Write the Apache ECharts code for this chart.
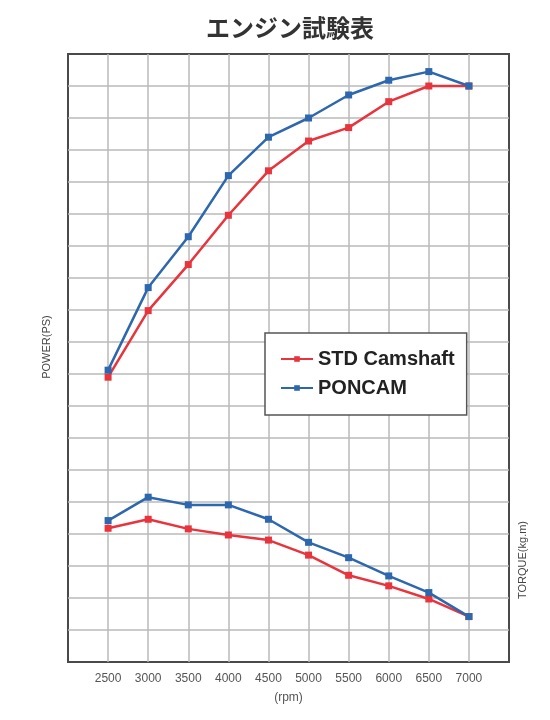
<!DOCTYPE html>
<html>
<head>
<meta charset="utf-8">
<script src="https://cdn.jsdelivr.net/npm/echarts@6/dist/echarts.min.js"></script>
<style>html,body{margin:0;padding:0;background:#fff;}#c{width:550px;height:720px;}</style>
</head>
<body>
<div id="c"></div>
<script>
var rpm = [2500, 3000, 3500, 4000, 4500, 5000, 5500, 6000, 6500, 7000];
var stdPower = [8.9, 10.98, 12.42, 13.96, 15.35, 16.28, 16.7, 17.51, 18.0, 18.0];
var poncamPower = [9.12, 11.7, 13.29, 15.2, 16.4, 17.0, 17.72, 18.18, 18.45, 18.0];
var stdTorque = [4.18, 4.46, 4.16, 3.97, 3.81, 3.34, 2.71, 2.38, 1.97, 1.42];
var poncamTorque = [4.42, 5.15, 4.91, 4.91, 4.46, 3.74, 3.26, 2.69, 2.17, 1.42];
var seriesNames = ['STD Camshaft', 'PONCAM'];
var colors = ['#e8343c', '#2d67ad'];

function pairs(ys) { return rpm.map(function (x, i) { return [x, ys[i]]; }); }
function mk(name, ys, color) {
  return {
    name: name, type: 'line', data: pairs(ys),
    symbol: 'rect', symbolSize: 7,
    lineStyle: { color: color, width: 2.5 },
    itemStyle: { color: color },
    animation: false
  };
}

var chart = echarts.init(document.getElementById('c'));
chart.setOption({
  animation: false,
  title: {
    text: 'エンジン試験表', left: 201, top: 11,
    textStyle: { fontFamily: 'Noto Sans CJK JP', fontWeight: 'bold', fontSize: 24, color: '#333' }
  },
  grid: { left: 68, right: 41, top: 54, bottom: 58, show: true, borderColor: '#4a4a4a', borderWidth: 2 },
  xAxis: {
    type: 'value', min: 2000, max: 7500, interval: 500,
    axisLine: { show: false }, axisTick: { show: false },
    axisLabel: {
      margin: 11, color: '#555', fontSize: 12, fontFamily: 'Liberation Sans',
      formatter: function (v) { return (v === 2000 || v === 7500) ? '' : String(v); }
    },
    splitLine: { show: true, showMinLine: false, showMaxLine: false, lineStyle: { color: '#bababa', width: 1.5 } },
    name: '(rpm)', nameLocation: 'middle', nameGap: 30,
    nameTextStyle: { color: '#555', fontSize: 12, fontFamily: 'Liberation Sans' }
  },
  yAxis: {
    type: 'value', min: 0, max: 19, interval: 1,
    axisLine: { show: false }, axisTick: { show: false }, axisLabel: { show: false },
    splitLine: { show: true, showMinLine: false, showMaxLine: false, lineStyle: { color: '#bababa', width: 1.5 } }
  },
  legend: {
    data: seriesNames, orient: 'vertical', left: 265, top: 333,
    backgroundColor: '#fff', borderColor: '#555', borderWidth: 1.5,
    padding: [16, 12, 17, 15], itemGap: 9, itemWidth: 32, itemHeight: 7,
    textStyle: { fontFamily: 'Liberation Sans', fontWeight: 'bold', fontSize: 20, color: '#222' }
  },
  graphic: [
    { type: 'text', x: 47, y: 347, rotation: Math.PI / 2,
      style: { text: 'POWER(PS)', fill: '#444', font: '11px "Liberation Sans"', textAlign: 'center', textVerticalAlign: 'middle' } },
    { type: 'text', x: 523, y: 560, rotation: Math.PI / 2,
      style: { text: 'TORQUE(kg.m)', fill: '#444', font: '11px "Liberation Sans"', textAlign: 'center', textVerticalAlign: 'middle' } }
  ],
  series: [
    mk(seriesNames[0], stdPower, colors[0]),
    mk(seriesNames[0], stdTorque, colors[0]),
    mk(seriesNames[1], poncamPower, colors[1]),
    mk(seriesNames[1], poncamTorque, colors[1])
  ]
});
</script>
</body>
</html>
